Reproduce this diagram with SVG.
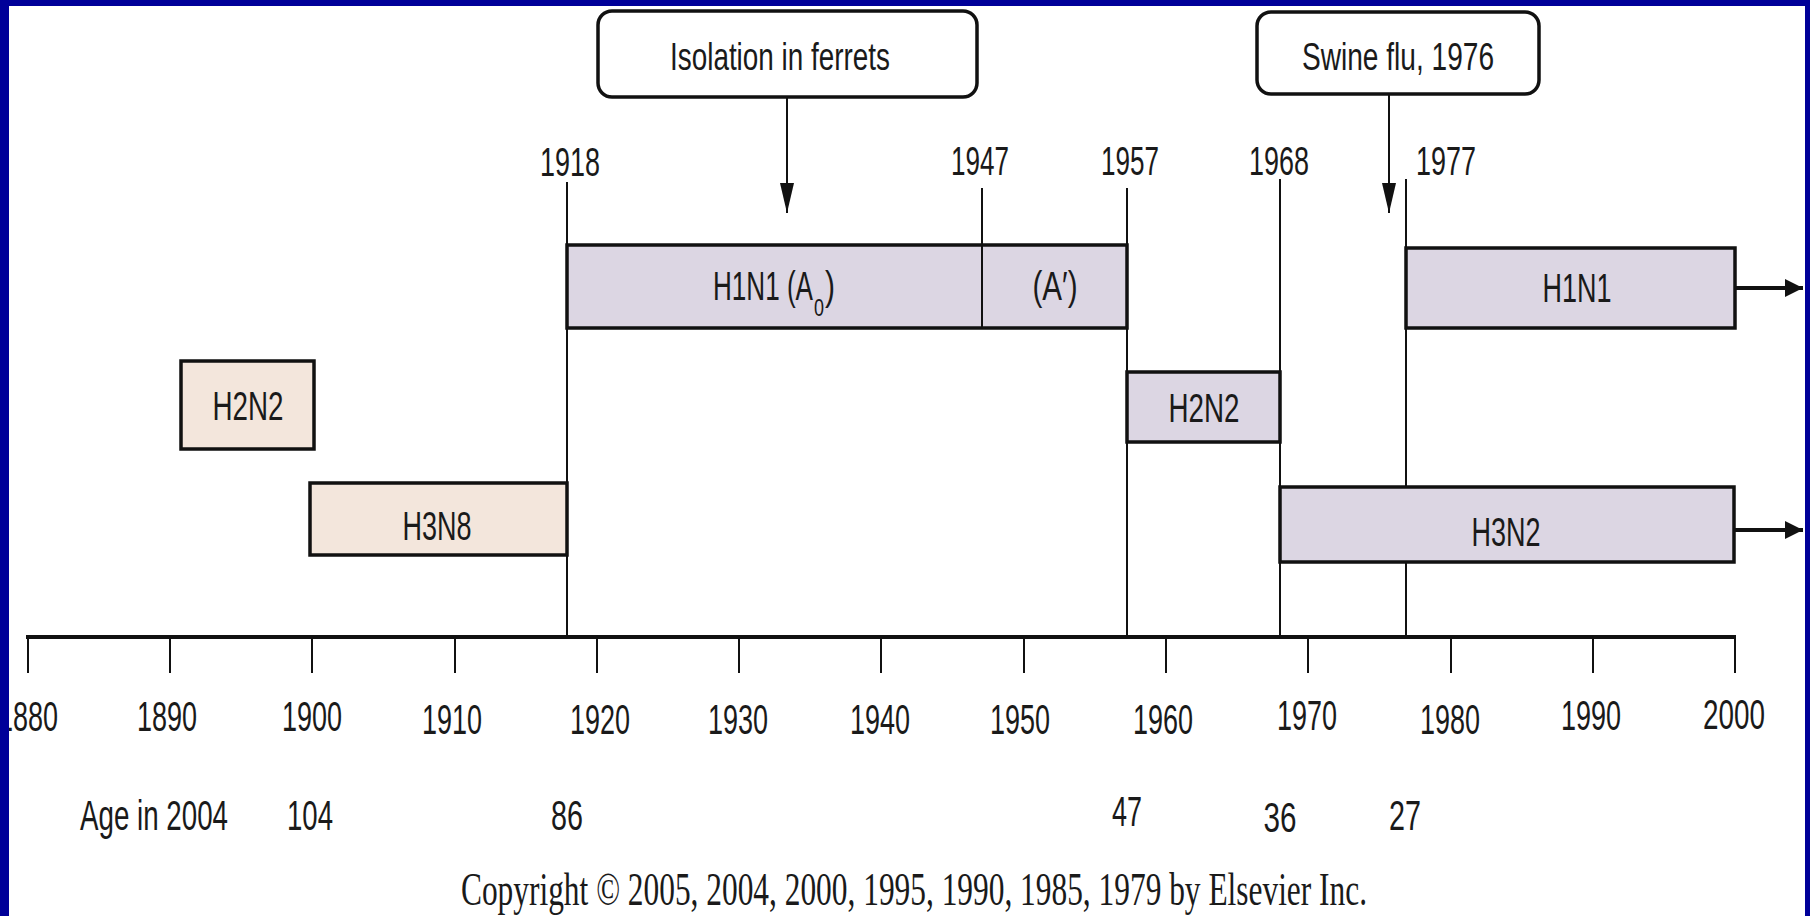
<svg xmlns="http://www.w3.org/2000/svg" width="1810" height="916" viewBox="0 0 1810 916">
<style>
.t{font-family:"Liberation Sans",Arial,sans-serif;fill:#1a1a1a;text-anchor:middle}
.s{font-family:"Liberation Serif","Times New Roman",serif;fill:#1a1a1a;text-anchor:middle}
.lav{fill:#dcd6e3;stroke:#111;stroke-width:3.5}
.bei{fill:#f3e6dc;stroke:#111;stroke-width:3.5}
.call{fill:#fff;stroke:#111;stroke-width:3.5}
.vl{stroke:#111;stroke-width:2;fill:none}
.tick{stroke:#111;stroke-width:2}
</style>
<defs>
<marker id="ah" viewBox="0 0 10 10" refX="10" refY="5" markerWidth="18" markerHeight="18" markerUnits="userSpaceOnUse" orient="auto">
<path d="M0,0 L10,5 L0,10 z" fill="#111"/>
</marker>
<marker id="ahd" viewBox="0 0 10 10" refX="10" refY="5" markerWidth="30" markerHeight="14" markerUnits="userSpaceOnUse" orient="auto" preserveAspectRatio="none">
<path d="M0,0 L10,5 L0,10 z" fill="#111"/>
</marker>
</defs>
<rect x="0" y="0" width="1810" height="916" fill="#ffffff"/>

<g id="connectors">
<line class="vl" x1="567" y1="182" x2="567" y2="637"/>
<line class="vl" x1="982" y1="188" x2="982" y2="328"/>
<line class="vl" x1="1127" y1="188" x2="1127" y2="637"/>
<line class="vl" x1="1280" y1="179" x2="1280" y2="637"/>
<line class="vl" x1="1406" y1="179" x2="1406" y2="637"/>
<line x1="787" y1="97" x2="787" y2="213" stroke="#111" stroke-width="2" marker-end="url(#ahd)"/>
<line x1="1389" y1="94" x2="1389" y2="213" stroke="#111" stroke-width="2" marker-end="url(#ahd)"/>
<line x1="1736" y1="288" x2="1803" y2="288" stroke="#111" stroke-width="4" marker-end="url(#ah)"/>
<line x1="1735" y1="530" x2="1803" y2="530" stroke="#111" stroke-width="4" marker-end="url(#ah)"/>
</g>

<g id="axis">
<line x1="26" y1="637" x2="1736" y2="637" stroke="#111" stroke-width="4"/>
<g class="tick">
<line x1="28" y1="637" x2="28" y2="673"/>
<line x1="170" y1="637" x2="170" y2="673"/>
<line x1="312" y1="637" x2="312" y2="673"/>
<line x1="455" y1="637" x2="455" y2="673"/>
<line x1="597" y1="637" x2="597" y2="673"/>
<line x1="739" y1="637" x2="739" y2="673"/>
<line x1="881" y1="637" x2="881" y2="673"/>
<line x1="1024" y1="637" x2="1024" y2="673"/>
<line x1="1166" y1="637" x2="1166" y2="673"/>
<line x1="1308" y1="637" x2="1308" y2="673"/>
<line x1="1451" y1="637" x2="1451" y2="673"/>
<line x1="1593" y1="637" x2="1593" y2="673"/>
<line x1="1735" y1="637" x2="1735" y2="673"/>
</g>
<g font-size="42">
<text class="t" x="28" y="731" textLength="60" lengthAdjust="spacingAndGlyphs">1880</text>
<text class="t" x="167" y="731" textLength="60" lengthAdjust="spacingAndGlyphs">1890</text>
<text class="t" x="312" y="731" textLength="60" lengthAdjust="spacingAndGlyphs">1900</text>
<text class="t" x="452" y="734" textLength="60" lengthAdjust="spacingAndGlyphs">1910</text>
<text class="t" x="600" y="734" textLength="60" lengthAdjust="spacingAndGlyphs">1920</text>
<text class="t" x="738" y="734" textLength="60" lengthAdjust="spacingAndGlyphs">1930</text>
<text class="t" x="880" y="734" textLength="60" lengthAdjust="spacingAndGlyphs">1940</text>
<text class="t" x="1020" y="734" textLength="60" lengthAdjust="spacingAndGlyphs">1950</text>
<text class="t" x="1163" y="734" textLength="60" lengthAdjust="spacingAndGlyphs">1960</text>
<text class="t" x="1307" y="730" textLength="60" lengthAdjust="spacingAndGlyphs">1970</text>
<text class="t" x="1450" y="734" textLength="60" lengthAdjust="spacingAndGlyphs">1980</text>
<text class="t" x="1591" y="730" textLength="60" lengthAdjust="spacingAndGlyphs">1990</text>
<text class="t" x="1734" y="729" textLength="62" lengthAdjust="spacingAndGlyphs">2000</text>
</g>
</g>

<g id="year-labels" font-size="40">
<text class="t" x="570" y="176" textLength="60" lengthAdjust="spacingAndGlyphs">1918</text>
<text class="t" x="980" y="175" textLength="58" lengthAdjust="spacingAndGlyphs">1947</text>
<text class="t" x="1130" y="175" textLength="58" lengthAdjust="spacingAndGlyphs">1957</text>
<text class="t" x="1279" y="175" textLength="60" lengthAdjust="spacingAndGlyphs">1968</text>
<text class="t" x="1446" y="175" textLength="60" lengthAdjust="spacingAndGlyphs">1977</text>
</g>

<g id="ages" font-size="42">
<text class="t" x="154" y="830" textLength="148" lengthAdjust="spacingAndGlyphs">Age in 2004</text>
<text class="t" x="310" y="830" textLength="46" lengthAdjust="spacingAndGlyphs">104</text>
<text class="t" x="567" y="830" textLength="32" lengthAdjust="spacingAndGlyphs">86</text>
<text class="t" x="1127" y="826" textLength="30" lengthAdjust="spacingAndGlyphs">47</text>
<text class="t" x="1280" y="832" textLength="33" lengthAdjust="spacingAndGlyphs">36</text>
<text class="t" x="1405" y="830" textLength="32" lengthAdjust="spacingAndGlyphs">27</text>
</g>

<g id="callout-ferrets">
<rect class="call" x="598" y="11" width="379" height="86" rx="14"/>
<text class="t" x="780" y="70" font-size="38" textLength="220" lengthAdjust="spacingAndGlyphs">Isolation in ferrets</text>
</g>
<g id="callout-swine">
<rect class="call" x="1257" y="12" width="282" height="82" rx="14"/>
<text class="t" x="1398" y="70" font-size="38" textLength="192" lengthAdjust="spacingAndGlyphs">Swine flu, 1976</text>
</g>

<g id="h1n1-a0">
<rect class="lav" x="567" y="245" width="560" height="83"/>
<line class="vl" x1="982" y1="245" x2="982" y2="328"/>
<text class="t" x="713" y="300" font-size="40" style="text-anchor:start" textLength="100" lengthAdjust="spacingAndGlyphs">H1N1 (A</text>
<text class="t" x="819" y="316" font-size="24" textLength="10" lengthAdjust="spacingAndGlyphs">0</text>
<text class="t" x="830" y="300" font-size="40" textLength="10" lengthAdjust="spacingAndGlyphs">)</text>
<text class="t" x="1055" y="300" font-size="40" textLength="45" lengthAdjust="spacingAndGlyphs">(A′)</text>
</g>

<g id="h1n1">
<rect class="lav" x="1406" y="248" width="329" height="80"/>
<text class="t" x="1577" y="302" font-size="40" textLength="69" lengthAdjust="spacingAndGlyphs">H1N1</text>
</g>

<g id="h2n2-early">
<rect class="bei" x="181" y="361" width="133" height="88"/>
<text class="t" x="248" y="420" font-size="40" textLength="71" lengthAdjust="spacingAndGlyphs">H2N2</text>
</g>

<g id="h3n8">
<rect class="bei" x="310" y="483" width="257" height="72"/>
<text class="t" x="437" y="540" font-size="40" textLength="69" lengthAdjust="spacingAndGlyphs">H3N8</text>
</g>

<g id="h2n2">
<rect class="lav" x="1127" y="372" width="153" height="70"/>
<text class="t" x="1204" y="422" font-size="40" textLength="71" lengthAdjust="spacingAndGlyphs">H2N2</text>
</g>

<g id="h3n2">
<rect class="lav" x="1280" y="487" width="454" height="75"/>
<text class="t" x="1506" y="546" font-size="40" textLength="69" lengthAdjust="spacingAndGlyphs">H3N2</text>
</g>

<text class="s" x="914" y="905" font-size="46" textLength="906" lengthAdjust="spacingAndGlyphs">Copyright © 2005, 2004, 2000, 1995, 1990, 1985, 1979 by Elsevier Inc.</text>

<g id="frame" fill="#000099">
<rect x="0" y="0" width="1810" height="6"/>
<rect x="0" y="0" width="9" height="916"/>
<rect x="1805" y="0" width="5" height="916"/>
</g>
</svg>
